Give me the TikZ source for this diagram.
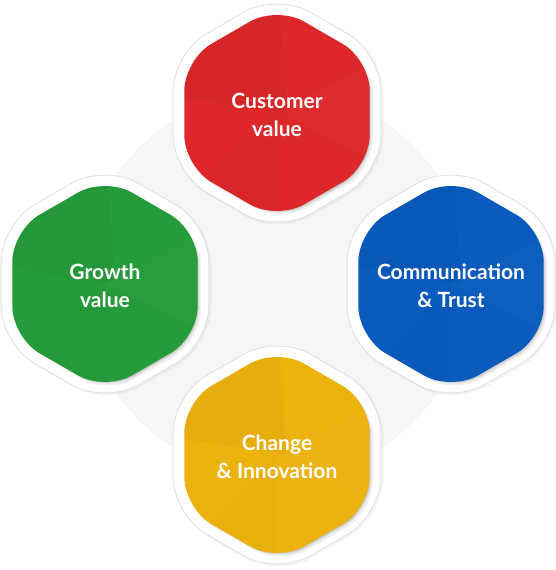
\documentclass[tikz,border=0pt]{standalone}
\usepackage{fontspec}
\setmainfont{Lato}
\definecolor{cred}{HTML}{DD2729}
\definecolor{cgreen}{HTML}{259C3B}
\definecolor{cblue}{HTML}{0A5BBD}
\definecolor{cyellow}{HTML}{ECB20E}
\definecolor{bgcirc}{HTML}{F6F6F6}
\definecolor{rimgray}{HTML}{E2E2E2}
\tikzset{
  celltext/.style={text=white,align=center,font=\fontsize{21}{28}\selectfont\bfseries,inner sep=0pt},
  rim/.style={fill=white,draw=rimgray,line width=0.9pt,rounded corners=38pt},
  core/.style={rounded corners=31pt},
}
\newcommand\hexshape[1]{(90:#1)--(150:#1)--(210:#1)--(270:#1)--(330:#1)--(30:#1)--cycle}
\newcommand\hexcell[5]{%
  \begin{scope}[shift={(#1,#2)}]
    \fill[black,opacity=0.04,rounded corners=38pt,shift={(1.5,-1.5)}] \hexshape{121};
    \path[rim] \hexshape{120};
    \fill[black,opacity=0.06,core,shift={(3.5,-3.5)}] \hexshape{107};
    \fill[black,opacity=0.08,core,shift={(2.5,-2.5)}] \hexshape{106};
    \fill[black,opacity=0.10,core,shift={(1.5,-1.5)}] \hexshape{106};
    \fill[#3,core] \hexshape{107};
    \begin{scope}
      \clip[core] \hexshape{107};
      \fill[black,opacity=0.025] (-120,20) -- (0,140) -- (10,0) -- cycle;
      \fill[white,opacity=0.02] (0,0) -- (120,-60) -- (120,60) -- cycle;
      \fill[black,opacity=0.015] (-120,-120) -- (0,0) -- (0,-120) -- cycle;
    \end{scope}
    \node[celltext] (#4) at (0,-2) {#5};
  \end{scope}}
\begin{document}
\begin{tikzpicture}[x=1pt,y=1pt]
  \useasboundingbox (0,0) rectangle (556,570);
  \fill[white] (0,0) rectangle (556,570);
  \fill[bgcirc] (277,286) circle (194);
  \hexcell{277}{457}{cred}{customer}{Customer\\value}
  \hexcell{105}{286}{cgreen}{growth}{Growth\\value}
  \hexcell{451}{286}{cblue}{comm}{Communication\\\& Trust}
  \hexcell{277}{115}{cyellow}{change}{Change\\\& Innovation}
\end{tikzpicture}
\end{document}
